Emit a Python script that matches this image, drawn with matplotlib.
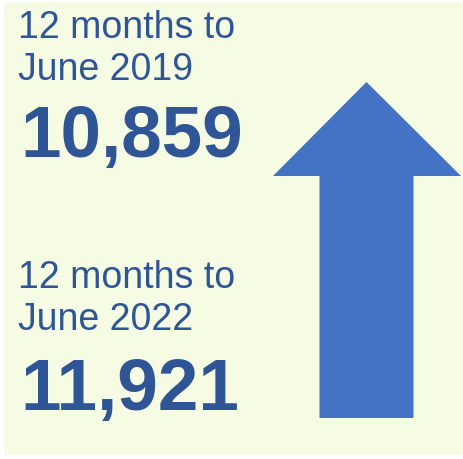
import matplotlib.pyplot as plt
from matplotlib.patches import Polygon, Rectangle

periods = ["12 months to\nJune 2019", "12 months to\nJune 2022"]
totals = [10859, 11921]

text_col = "#2F5597"
arrow_col = "#4472C4"
bg_col = "#F5FCE3"

fig = plt.figure(figsize=(4.64, 4.59), dpi=100)
ax = fig.add_axes([0, 0, 1, 1])
ax.set_xlim(0, 464)
ax.set_ylim(459, 0)
ax.axis("off")

ax.add_patch(Rectangle((4, 2), 460, 453, color=bg_col, lw=0))

# label + number blocks, one per period (baselines in pixels)
baselines = [(38, 80, 157), (288, 330, 410)]
for (b1, b2, b3), period, total in zip(baselines, periods, totals):
    lines = period.split("\n")
    ax.text(18, b1, lines[0], fontsize=27, family="Liberation Sans",
            color=text_col, va="baseline", ha="left")
    ax.text(18, b2, lines[1], fontsize=27, family="Liberation Sans",
            color=text_col, va="baseline", ha="left")
    ax.text(20, b3, f"{total:,}", fontsize=52.5, family="Liberation Sans",
            weight="bold", color=text_col, va="baseline", ha="left")

# up arrow
arrow = [(319.5, 418), (319.5, 176), (273, 176), (366.5, 82),
         (461, 176), (413.5, 176), (413.5, 418)]
ax.add_patch(Polygon(arrow, closed=True, color=arrow_col, lw=0))

fig.savefig("out.png", dpi=100, facecolor="white")
